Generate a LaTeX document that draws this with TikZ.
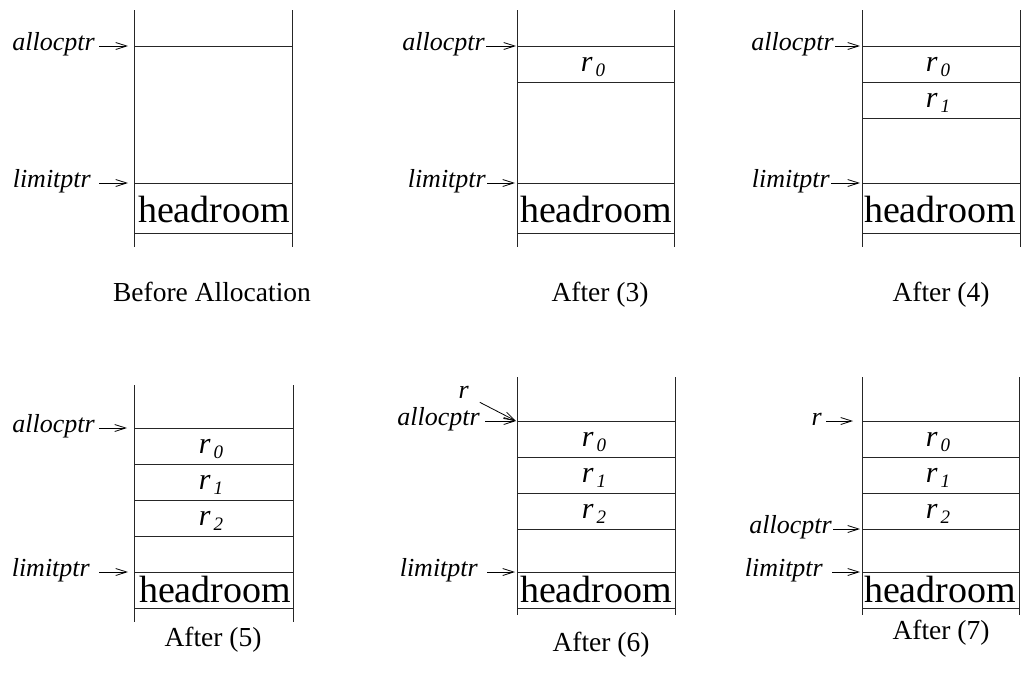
\documentclass[tikz,border=0pt]{standalone}
\usepackage{fontspec}
\setmainfont{Liberation Serif}
\usetikzlibrary{arrows.meta}

% r with a lowered italic index, as used in the allocated cells
\newcommand{\cellname}[1]{\textit{r}\hspace{3pt}\raisebox{-5pt}{\fontsize{19}{19}\selectfont\textit{#1}}}

\begin{document}
\begin{tikzpicture}[
    x=1pt, y=-1pt,
    wall/.style={line width=0.9pt, black!85},
    ptr/.style={-{Straight Barb[length=11pt,width=7pt]}, line width=0.8pt},
    lbl/.style={font=\fontsize{26}{26}\selectfont\itshape, text height=12pt,
        text depth=4pt, inner sep=1pt, anchor=east},
    cell/.style={font=\fontsize{30}{30}\selectfont, anchor=base, inner sep=0pt},
    room/.style={font=\fontsize{38}{38}\selectfont, anchor=base, inner sep=0pt},
    caption/.style={font=\fontsize{27.5}{27.5}\selectfont, anchor=base, inner sep=0pt}
]
    \useasboundingbox (0,0) rectangle (1023,673);

    % --- Before Allocation ---
    \draw[wall] (134,10) -- (134,247) (292,10) -- (292,247);
    \foreach \y in {46,183,233} \draw[wall] (134,\y) -- (292,\y);
    \node[lbl] (a1) at (96,46) {allocptr};
    \coordinate (a1tip) at (128,46);
    \draw[ptr, shorten <=3pt] (a1) -- (a1tip);
    \node[lbl] (l1) at (92,183) {limitptr};
    \coordinate (l1tip) at (128,183);
    \draw[ptr, shorten <=7pt] (l1) -- (l1tip);
    \node[room] (h1) at (214,222) {headroom};
    \node[caption] (c1) at (212,301) {Before Allocation};

    % --- After (3) ---
    \draw[wall] (517,10) -- (517,247) (674,10) -- (674,247);
    \foreach \y in {46,82,183,233} \draw[wall] (517,\y) -- (674,\y);
    \node[cell] (p2r0) at (593,71) {\cellname{0}};
    \node[lbl] (a2) at (486,46) {allocptr};
    \coordinate (a2tip) at (516,46);
    \draw[ptr] (a2) -- (a2tip);
    \node[lbl] (l2) at (487,183) {limitptr};
    \coordinate (l2tip) at (515,183);
    \draw[ptr] (l2) -- (l2tip);
    \node[room] (h2) at (596,222) {headroom};
    \node[caption] (c2) at (600,301) {After (3)};

    % --- After (4) ---
    \draw[wall] (862,10) -- (862,247) (1020,10) -- (1020,247);
    \foreach \y in {46,82,118,183,233} \draw[wall] (862,\y) -- (1020,\y);
    \foreach \i/\y in {0/46,1/82} \node[cell] (p3r\i) at (938,\y+25) {\cellname{\i}};
    \node[lbl] (a3) at (835,46) {allocptr};
    \coordinate (a3tip) at (860,46);
    \draw[ptr] (a3) -- (a3tip);
    \node[lbl] (l3) at (831,183) {limitptr};
    \coordinate (l3tip) at (860,183);
    \draw[ptr] (l3) -- (l3tip);
    \node[room] (h3) at (940,222) {headroom};
    \node[caption] (c3) at (941,301) {After (4)};

    % --- After (5) ---
    \draw[wall] (134,385) -- (134,622) (293,385) -- (293,622);
    \foreach \y in {428,464,500,536,572,608} \draw[wall] (134,\y) -- (293,\y);
    \foreach \i/\y in {0/428,1/464,2/500} \node[cell] (p4r\i) at (211,\y+25) {\cellname{\i}};
    \node[lbl] (a4) at (96,428) {allocptr};
    \coordinate (a4tip) at (127,428);
    \draw[ptr, shorten <=3pt] (a4) -- (a4tip);
    \node[lbl] (l4) at (91,572) {limitptr};
    \coordinate (l4tip) at (128,572);
    \draw[ptr, shorten <=8pt] (l4) -- (l4tip);
    \node[room] (h4) at (215,602) {headroom};
    \node[caption] (c4) at (213,646) {After (5)};

    % --- After (6) ---
    \draw[wall] (517,377) -- (517,615) (675,377) -- (675,615);
    \foreach \y in {421,457,493,529,572,608} \draw[wall] (517,\y) -- (675,\y);
    \foreach \i/\y in {0/421,1/457,2/493} \node[cell] (p5r\i) at (594,\y+25) {\cellname{\i}};
    \node[lbl, text height=9pt, text depth=1pt] (rr5) at (470,394) {r};
    \coordinate (rr5tip) at (516,421);
    \draw[ptr, shorten <=11pt] (rr5) -- (rr5tip);
    \node[lbl] (a5) at (481,421) {allocptr};
    \coordinate (a5tip) at (516,421);
    \draw[ptr, shorten <=4pt] (a5) -- (a5tip);
    \node[lbl] (l5) at (479,572) {limitptr};
    \coordinate (l5tip) at (515,572);
    \draw[ptr, shorten <=8pt] (l5) -- (l5tip);
    \node[room] (h5) at (596,602) {headroom};
    \node[caption] (c5) at (601,651) {After (6)};

    % --- After (7) ---
    \draw[wall] (862,377) -- (862,615) (1019,377) -- (1019,615);
    \foreach \y in {421,457,493,529,572,608} \draw[wall] (862,\y) -- (1019,\y);
    \foreach \i/\y in {0/421,1/457,2/493} \node[cell] (p6r\i) at (938,\y+25) {\cellname{\i}};
    \node[lbl] (rr6) at (823,421) {r};
    \coordinate (rr6tip) at (853,421);
    \draw[ptr, shorten <=3pt] (rr6) -- (rr6tip);
    \node[lbl] (a6) at (833,529) {allocptr};
    \coordinate (a6tip) at (860,529);
    \draw[ptr] (a6) -- (a6tip);
    \node[lbl] (l6) at (824,572) {limitptr};
    \coordinate (l6tip) at (860,572);
    \draw[ptr, shorten <=8pt] (l6) -- (l6tip);
    \node[room] (h6) at (940,602) {headroom};
    \node[caption] (c6) at (941,639) {After (7)};

\end{tikzpicture}
\end{document}
